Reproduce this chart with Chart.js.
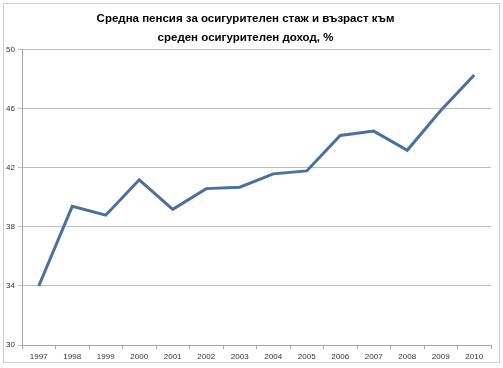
<!DOCTYPE html>
<html>
<head>
<meta charset="utf-8">
<script src="https://cdn.jsdelivr.net/npm/chart.js@4"></script>
<style>
  html, body { margin: 0; padding: 0; background: #fff; }
  #wrap { width: 503px; height: 368px; }
</style>
</head>
<body>
<div id="wrap"><canvas id="chart" width="503" height="368"></canvas></div>
<script>
// данни
const years = ['1997', '1998', '1999', '2000', '2001', '2002', '2003', '2004', '2005', '2006', '2007', '2008', '2009', '2010'];
const pensionRatio = [34.0, 39.4, 38.8, 41.2, 39.2, 40.6, 40.7, 41.6, 41.8, 44.2, 44.5, 43.2, 45.9, 48.3];
const titleLines = ['Средна пенсия за осигурителен стаж и възраст към', 'среден осигурителен доход, %'];
const yMin = 30, yMax = 50, yStep = 4;

// рамка около диаграмата
const frame = {
    id: 'frame',
    afterDraw(chart) {
        const ctx = chart.ctx;
        ctx.save();
        ctx.strokeStyle = '#cfcfcf';
        ctx.lineWidth = 1;
        ctx.strokeRect(3.5, 3.5, 496, 359);
        ctx.restore();
    }
};

const ctx = document.getElementById('chart').getContext('2d');
new Chart(ctx, {
    type: 'line',
    data: {
        labels: years,
        datasets: [{
            data: pensionRatio,
            borderColor: '#4a70a0',
            borderWidth: 3,
            pointRadius: 0,
            tension: 0,
            fill: false
        }]
    },
    plugins: [frame],
    options: {
        responsive: false,
        animation: false,
        layout: { padding: { left: 0, right: 12, top: 0, bottom: 6 } },
        plugins: {
            legend: { display: false },
            tooltip: { enabled: false },
            title: {
                display: true,
                text: titleLines,
                color: '#000',
                font: { family: 'Liberation Sans', size: 11.5, weight: 'bold', lineHeight: 1.65 },
                padding: { top: 9, bottom: 3 }
            }
        },
        scales: {
            x: {
                offset: true,
                grid: { offset: true, drawOnChartArea: false, color: '#a6a6a6', tickLength: 4 },
                border: { color: '#a6a6a6' },
                ticks: { color: '#333', font: { family: 'Liberation Sans', size: 8 }, padding: 3, maxRotation: 0 },
                afterFit(scale) { scale.height = 17; }
            },
            y: {
                min: yMin,
                max: yMax,
                ticks: { stepSize: yStep, color: '#333', font: { family: 'Liberation Sans', size: 8 }, padding: 3 },
                grid: { color: '#bcbcbc', tickLength: 4 },
                border: { color: '#a6a6a6' },
                afterFit(scale) { scale.width = 22; }
            }
        }
    }
});
</script>
</body>
</html>
